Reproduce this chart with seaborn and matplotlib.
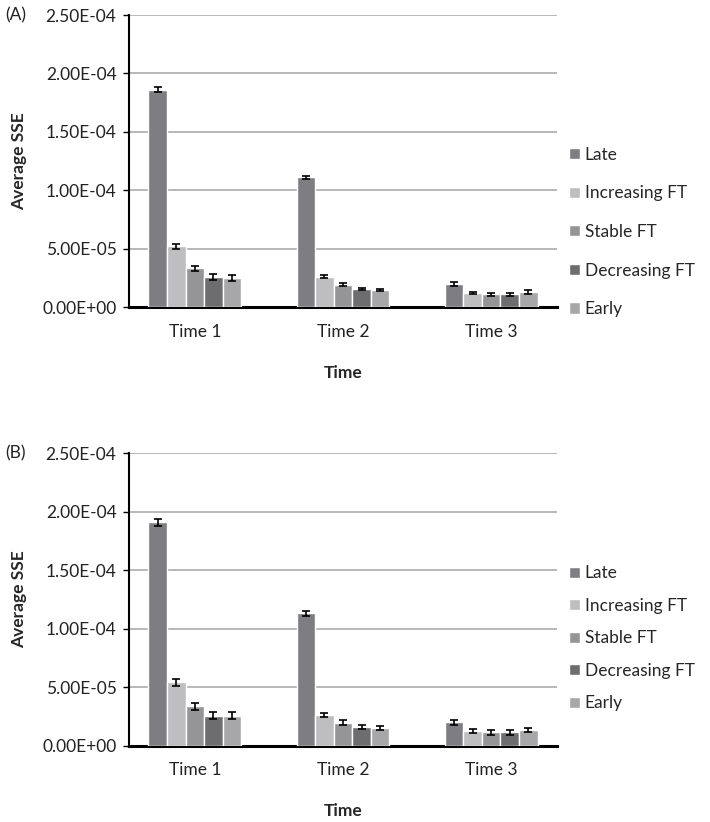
import numpy as np
import pandas as pd
import matplotlib
matplotlib.use("Agg")
import matplotlib.pyplot as plt
import seaborn as sns
from matplotlib.ticker import FuncFormatter

# categories / series
times = ["Time 1", "Time 2", "Time 3"]
groups = ["Late", "Increasing FT", "Stable FT", "Decreasing FT", "Early"]
colors = ["#7e7e82", "#bebec1", "#959598", "#6d6d70", "#a7a7a9"]

# panel A: mean SSE per group, rows follow `groups`, columns follow `times`
sse_a = [
    [1.86e-4, 1.11e-4, 1.95e-5],
    [5.2e-5, 2.6e-5, 1.2e-5],
    [3.3e-5, 1.9e-5, 1.1e-5],
    [2.55e-5, 1.55e-5, 1.1e-5],
    [2.5e-5, 1.45e-5, 1.3e-5],
]
err_a = [
    [2.0e-6, 1.5e-6, 1.5e-6],
    [2.0e-6, 1.2e-6, 1.2e-6],
    [2.0e-6, 1.2e-6, 1.2e-6],
    [2.5e-6, 1.2e-6, 1.2e-6],
    [2.5e-6, 1.2e-6, 1.5e-6],
]

# panel B
sse_b = [
    [1.91e-4, 1.13e-4, 1.98e-5],
    [5.4e-5, 2.63e-5, 1.24e-5],
    [3.35e-5, 1.95e-5, 1.13e-5],
    [2.55e-5, 1.6e-5, 1.13e-5],
    [2.55e-5, 1.47e-5, 1.32e-5],
]
err_b = [
    [3.0e-6, 2.0e-6, 2.0e-6],
    [3.0e-6, 1.8e-6, 2.0e-6],
    [3.0e-6, 2.0e-6, 2.0e-6],
    [3.0e-6, 1.8e-6, 2.0e-6],
    [3.0e-6, 1.8e-6, 2.0e-6],
]

sns.set_style("white")
plt.rcParams["font.family"] = ["Lato", "DejaVu Sans"]
FS = 12.5


def to_frame(vals, errs):
    rows = []
    for g, v_row, e_row in zip(groups, vals, errs):
        for t, v, e in zip(times, v_row, e_row):
            rows.append({"time": t, "group": g, "sse": v, "err": e})
    return pd.DataFrame(rows)


def draw_panel(ax, df, tag, label_gap, legend_y):
    sns.barplot(data=df, x="time", y="sse", hue="group", order=times,
                hue_order=groups, palette=colors, width=0.625, gap=0,
                errorbar=None, saturation=1, ax=ax, zorder=3)
    # error bars on top of the seaborn bars
    for cont, g in zip(ax.containers, groups):
        sub = df[df["group"] == g].set_index("time").loc[times]
        xs = [p.get_x() + p.get_width() / 2 for p in cont.patches]
        ax.errorbar(xs, sub["sse"].values, yerr=sub["err"].values, fmt="none",
                    ecolor="black", elinewidth=1.2, capsize=3.2,
                    capthick=1.2, zorder=4)

    ax.set_ylim(0, 2.5e-4)
    ax.set_yticks(np.arange(0, 2.51e-4, 5e-5))
    ax.yaxis.set_major_formatter(FuncFormatter(lambda v, p: f"{v:.2E}"))
    ax.grid(axis="y", color="#ababab", linewidth=1.2, zorder=0)
    ax.set_axisbelow(True)
    for s in ["top", "right"]:
        ax.spines[s].set_visible(False)
    ax.spines["left"].set_color("black")
    ax.spines["left"].set_linewidth(1.5)
    ax.spines["bottom"].set_color("black")
    ax.spines["bottom"].set_linewidth(2.2)
    ax.tick_params(axis="y", length=4, width=1, color="black", labelsize=FS,
                   labelcolor="#222222", pad=5, left=True)
    ax.tick_params(axis="x", length=0, labelsize=FS, labelcolor="#222222", pad=12)
    ax.set_xlabel("Time", fontsize=FS, fontweight="bold", labelpad=18)
    ax.set_ylabel("Average SSE", fontsize=FS, fontweight="bold", labelpad=11)
    ax.text(-0.288, 1.0, tag, transform=ax.transAxes, fontsize=FS,
            ha="left", va="center", color="#222222")

    handles, labels = ax.get_legend_handles_labels()
    ax.legend(handles, labels, loc="center left", bbox_to_anchor=(1.0, legend_y),
              frameon=False, fontsize=FS, handlelength=0.6, handleheight=0.6,
              handletextpad=0.3, labelspacing=label_gap, borderaxespad=0.3)


fig = plt.figure(figsize=(7.10, 8.22), dpi=100)
ax_a = fig.add_axes([0.1817, 0.6265, 0.6028, 0.3552])
ax_b = fig.add_axes([0.1817, 0.0930, 0.6028, 0.3558])

draw_panel(ax_a, to_frame(sse_a, err_a), "(A)", 1.3, 0.257)
draw_panel(ax_b, to_frame(sse_b, err_b), "(B)", 0.95, 0.367)

fig.savefig("out.png", dpi=100)
